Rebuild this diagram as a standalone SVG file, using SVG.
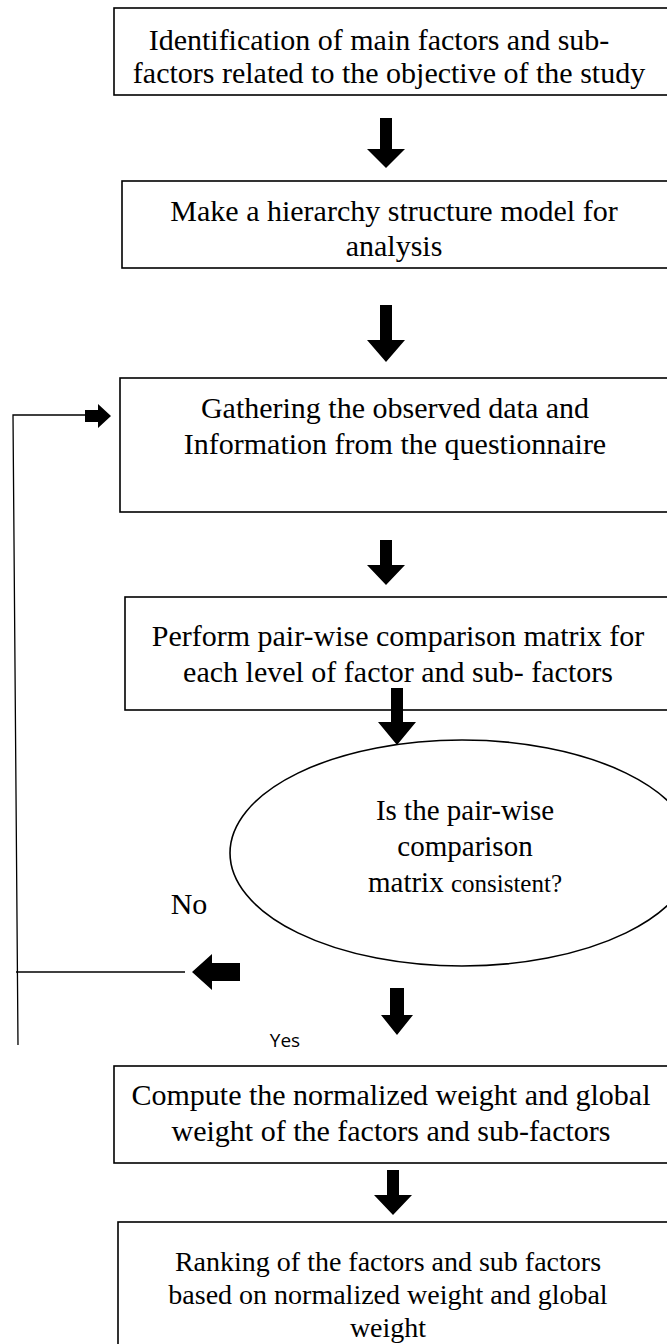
<svg xmlns="http://www.w3.org/2000/svg" width="667" height="1344" viewBox="0 0 667 1344">
<style>
.box{fill:#fff;stroke:#000;stroke-width:1.6}
.t{font-family:"Liberation Serif","Times New Roman",serif;font-size:30px;fill:#000;text-anchor:middle}
.e{font-size:29px}
.s{font-size:28px}
.line{fill:none;stroke:#000;stroke-width:1.3}
.arr{fill:#000;stroke:none}
</style>
<rect width="667" height="1344" fill="#fff"/>
<g id="n1"><rect class="box" x="114" y="8" width="570" height="87"/>
<text class="t" x="379" y="50">Identification of main factors and sub-</text>
<text class="t" x="389" y="83">factors related to the objective of the study</text></g>
<g id="n2"><rect class="box" x="122" y="181" width="560" height="87"/>
<text class="t" x="394" y="221">Make a hierarchy structure model for</text>
<text class="t" x="394" y="256">analysis</text></g>
<g id="n3"><rect class="box" x="120" y="378" width="560" height="134"/>
<text class="t" x="395" y="418">Gathering the observed data and</text>
<text class="t" x="395" y="454">Information from the questionnaire</text></g>
<g id="n4"><rect class="box" x="125" y="597" width="560" height="113"/>
<text class="t" x="398" y="646">Perform pair-wise comparison matrix for</text>
<text class="t" x="398" y="682">each level of factor and sub- factors</text></g>
<g id="n5"><ellipse class="box" cx="462" cy="853" rx="232" ry="113"/>
<text class="t e" x="465" y="820">Is the pair-wise</text>
<text class="t e" x="465" y="856">comparison</text>
<text class="t e" x="465" y="892">matrix <tspan font-size="25">consistent?</tspan></text></g>
<g id="n6"><rect class="box" x="114" y="1066" width="570" height="97"/>
<text class="t" x="391" y="1105">Compute the normalized weight and global</text>
<text class="t" x="391" y="1141">weight of the factors and sub-factors</text></g>
<g id="n7"><rect class="box" x="118" y="1222" width="570" height="140"/>
<text class="t s" x="388" y="1271">Ranking of the factors and sub factors</text>
<text class="t s" x="388" y="1304">based on normalized weight and global</text>
<text class="t s" x="388" y="1337">weight</text></g>
<g id="labels">
<text class="t" x="189" y="914" font-size="27">No</text>
<text x="285" y="1047" font-family="'Open Sans','Liberation Sans',sans-serif" font-size="19" text-anchor="middle">Yes</text>
</g>
<g id="connectors">
<path class="arr" d="M380,118H392V149H405L386,168L367,149H380Z"/>
<path class="arr" d="M380,305H392V340H405L386,362L367,340H380Z"/>
<path class="arr" d="M380,540H392V565H405L386,585L367,565H380Z"/>
<path class="arr" d="M391,688H403V722H416L397,745L378,722H391Z"/>
<path class="arr" d="M390,988H404V1015H413L397,1035L381,1015H390Z"/>
<path class="arr" d="M387,1170H399V1195H412L393,1215L374,1195H387Z"/>
<polyline class="line" points="185,972 16,972"/>
<polyline class="line" points="18,1045 13,415 85,415"/>
<path class="arr" d="M240,963V981H212V990L192,972L212,954V963Z"/>
<path class="arr" d="M85,410H98V404L111,416L98,428V422H85Z"/>
</g>
</svg>
